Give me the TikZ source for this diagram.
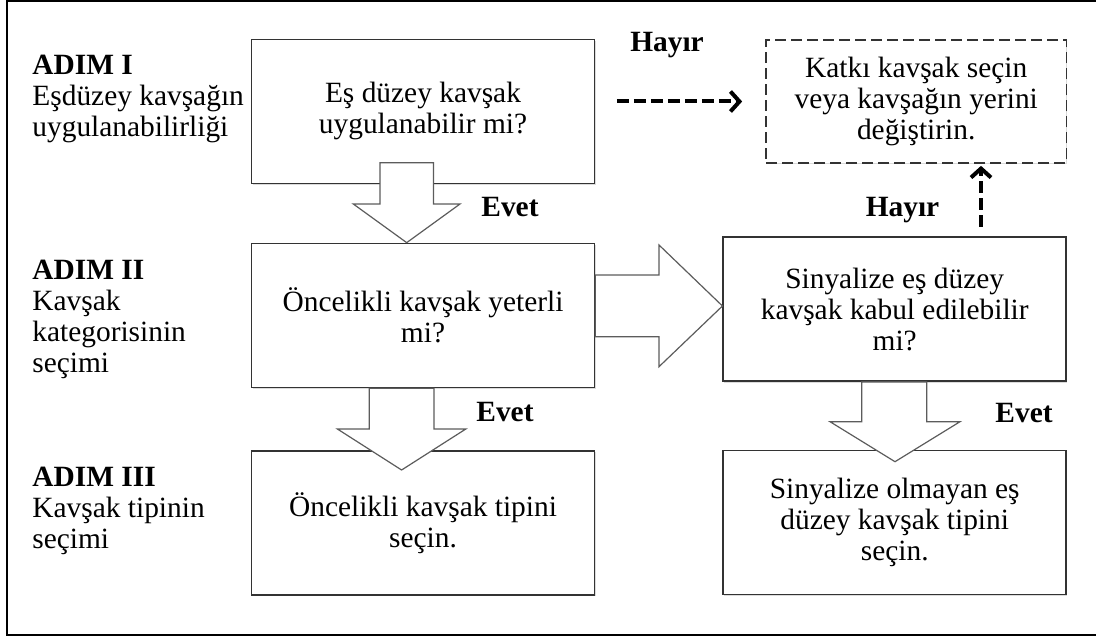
\documentclass[tikz,border=0pt]{standalone}
\usepackage{fontspec}
\setmainfont{Liberation Serif}
\usepackage{xcolor}
\usepackage{tikz}
\usetikzlibrary{arrows.meta,calc,shadows}
\definecolor{boxline}{HTML}{333333}
\definecolor{arrowline}{HTML}{5C5C5C}
\newcommand{\boxtext}{\fontsize{14.7}{15.5}\selectfont}

\tikzset{
  stepbox/.style={draw=boxline,line width=0.75pt,fill=white,minimum width=171.5pt,minimum height=72pt,
    inner sep=0pt,align=center,font=\boxtext,
    drop shadow={shadow xshift=0.5pt,shadow yshift=-0.7pt,fill=black!14,opacity=1}},
  bigarrow/.style={draw=arrowline,line width=0.6pt,fill=white,line join=miter},
  answer/.style={anchor=base,inner sep=0pt,font=\boxtext\bfseries},
  stepname/.style={anchor=north west,align=left,inner sep=0pt,font=\boxtext},
  noline/.style={line width=2pt,dash pattern=on 6pt off 2.5pt,
    -{Straight Barb[length=4.5pt,width=10pt]}}
}

\begin{document}
\begin{tikzpicture}[x=0.5pt,y=-0.5pt]
  \useasboundingbox (0,0) rectangle (1096,636);
  \draw[line width=1pt] (1100,1.5) -- (7,1.5) -- (7,634.5) -- (1100,634.5);

  % steps on the left
  \node[stepname] (s1) at (32,55) {\textbf{ADIM I}\\Eşdüzey kavşağın\\uygulanabilirliği};
  \node[stepname] (s2) at (32,260) {\textbf{ADIM II}\\Kavşak\\kategorisinin\\seçimi};
  \node[stepname] (s3) at (32,466.5) {\textbf{ADIM III}\\Kavşak tipinin\\seçimi};

  % boxes
  \node[stepbox] (eq) at (423,111.4) {Eş düzey kavşak\\uygulanabilir mi?};
  \node[stepbox] (onc) at (423,315.4) {Öncelikli kavşak yeterli\\mi?};
  \node[stepbox] (tip) at (423,522.8) {Öncelikli kavşak tipini\\seçin.};
  \node[stepbox,line width=0.85pt,dash pattern=on 5.5pt off 2.5pt,minimum width=150.2pt,minimum height=61.5pt] (katki)
    at (916.2,101.5) {Katkı kavşak seçin\\veya kavşağın yerini\\değiştirin.};
  \node[stepbox] (sig) at (894.7,309.2) {Sinyalize eş düzey\\kavşak kabul edilebilir\\mi?};
  \node[stepbox] (unsig) at (894.7,522.4) {Sinyalize olmayan eş\\düzey kavşak tipini\\seçin.};

  % block arrows
  \draw[bigarrow] (380,162.7) -- (433.5,162.7) -- (433.5,204) -- (460,204) -- (onc.north -| 406.7,0)
    -- (353.3,204) -- (380,204) -- cycle;
  \draw[bigarrow] (onc.south -| 369.3,0) -- (onc.south -| 433.9,0) -- (433.9,429) -- (465.8,429)
    -- (401.6,470) -- (337.4,429) -- (369.3,429) -- cycle;
  \draw[bigarrow] (sig.south -| 861.7,0) -- (sig.south -| 926.7,0) -- (926.7,421.7) -- (960,421.7)
    -- (895,461.7) -- (830,421.7) -- (861.7,421.7) -- cycle;
  \draw[bigarrow] (onc.east |- 0,275) -- (659,275) -- (659,245) -- (sig.west |- 0,306)
    -- (659,366.7) -- (659,336.7) -- (onc.east |- 0,336.7) -- cycle;

  % dashed arrows
  \draw[noline,shorten <=10.75pt,shorten >=11.5pt] (katki.west -| eq.east) -- (katki.west);
  \coordinate (up) at (981,226.7);
  \draw[noline,shorten >=1pt] (up) -- (up |- katki.south);

  % answers
  \node[answer] (no1) at (667,51.5) {Hayır};
  \node[answer] (no2) at (902.5,216.5) {Hayır};
  \node[answer] (yes1) at (510,216) {Evet};
  \node[answer] (yes2) at (505,421) {Evet};
  \node[answer] (yes3) at (1024,422) {Evet};
\end{tikzpicture}
\end{document}
